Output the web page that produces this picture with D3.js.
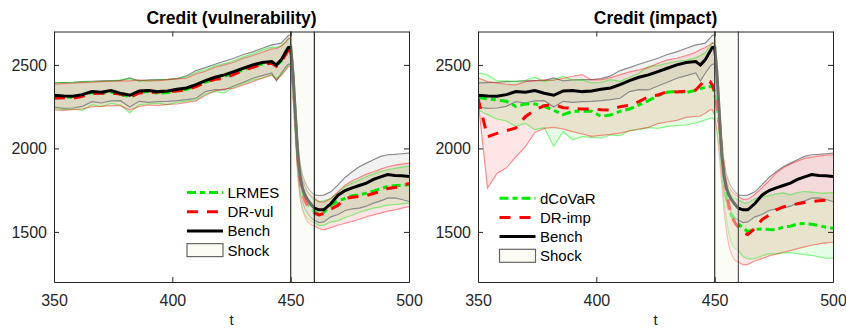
<!DOCTYPE html>
<html>
<head>
<meta charset="utf-8">
<title>Credit (vulnerability) / Credit (impact)</title>
<script src="https://cdn.jsdelivr.net/npm/d3@7"></script>
<style>
  body { margin: 0; background: #fff; }
  text { font-family: "Liberation Sans", Arial, Helvetica, sans-serif; }
</style>
</head>
<body>
<script>
// time points (denser around the shock)
var T = [350,354,358,362,366,370,374,378,382,386,390,394,398,402,406,410,414,418,422,426,430,434,438,442,444,446,448,
         449,450,451,452,453,454,455,456,457,458,459,460,
         462,464,467,470,473,476,479,482,485,488,491,494,497,500];

// benchmark (same in both panels)
var bench = [2318,2314,2312,2322,2340,2336,2346,2330,2318,2344,2346,2340,2344,2354,2362,2382,2406,2426,2440,2460,2480,2500,2514,2520,2500,2530,2580,
             2604,2606,2440,2200,1960,1830,1762,1722,1696,1676,1658,1642,
             1632,1632,1670,1720,1748,1764,1778,1792,1814,1830,1844,1838,1836,1832];
var benchHi = [2392,2394,2396,2400,2402,2404,2406,2406,2422,2404,2410,2412,2412,2418,2434,2466,2484,2504,2522,2540,2562,2578,2600,2620,2624,2630,2660,
               2676,2680,2520,2280,2040,1910,1840,1800,1770,1750,1734,1722,
               1718,1720,1740,1782,1826,1860,1890,1912,1932,1952,1962,1964,1968,1972];
var benchLo = [2248,2240,2242,2252,2280,2272,2284,2286,2248,2282,2276,2280,2282,2286,2292,2300,2340,2352,2350,2374,2396,2420,2436,2452,2404,2450,2490,
               2504,2506,2350,2110,1870,1740,1680,1640,1616,1596,1580,1570,
               1556,1560,1590,1604,1628,1638,1642,1654,1672,1686,1702,1704,1694,1682];

// left panel: LRMES and DR-vul
var lrmes = [2312,2308,2306,2316,2334,2330,2338,2324,2310,2336,2340,2330,2334,2346,2354,2374,2398,2414,2432,2450,2470,2490,2506,2512,2494,2524,2572,
             2596,2598,2430,2180,1940,1806,1738,1698,1670,1650,1634,1622,
             1604,1618,1660,1686,1700,1716,1722,1732,1744,1758,1772,1776,1780,1782];
var lrmesHi = [2394,2396,2394,2400,2398,2402,2404,2410,2418,2402,2406,2410,2414,2420,2426,2456,2470,2494,2508,2524,2548,2566,2590,2606,2604,2616,2640,
               2660,2664,2500,2250,2010,1880,1810,1770,1740,1720,1702,1692,
               1682,1686,1700,1736,1770,1792,1810,1830,1846,1862,1872,1880,1888,1892];
var lrmesLo = [2240,2232,2236,2228,2262,2250,2270,2260,2212,2262,2266,2270,2262,2276,2284,2290,2326,2340,2332,2366,2390,2410,2420,2440,2420,2440,2480,
               2500,2500,2330,2080,1840,1710,1640,1604,1584,1570,1560,1556,
               1538,1540,1560,1566,1586,1600,1618,1630,1642,1650,1660,1664,1668,1672];
var drVul = [2300,2304,2300,2312,2328,2330,2332,2326,2306,2332,2336,2338,2342,2344,2352,2370,2396,2414,2420,2444,2466,2486,2502,2510,2492,2520,2566,
             2590,2594,2420,2170,1930,1796,1728,1688,1660,1638,1622,1612,
             1602,1610,1636,1660,1700,1708,1712,1718,1730,1744,1760,1766,1776,1790];
var drVulHi = [2384,2388,2390,2394,2396,2400,2402,2404,2404,2410,2404,2406,2412,2416,2420,2446,2462,2486,2500,2516,2540,2556,2576,2596,2598,2612,2636,
               2656,2660,2500,2250,2010,1880,1816,1776,1746,1726,1712,1702,
               1680,1678,1700,1740,1780,1806,1826,1846,1860,1876,1890,1900,1906,1912];
var drVulLo = [2230,2228,2232,2236,2250,2252,2256,2256,2230,2252,2260,2256,2264,2266,2276,2284,2318,2344,2356,2360,2380,2400,2420,2440,2412,2436,2470,
               2490,2494,2320,2070,1830,1700,1630,1590,1564,1550,1540,1536,
               1520,1512,1526,1540,1552,1562,1576,1590,1602,1612,1624,1632,1642,1652];

// right panel: dCoVaR and DR-imp
var dcovar = [2306,2296,2290,2282,2252,2266,2266,2252,2228,2202,2222,2222,2222,2192,2200,2222,2236,2260,2286,2316,2336,2342,2334,2348,2358,2366,2370,
              2372,2330,2250,2120,1960,1820,1700,1640,1600,1580,1568,1548,
              1524,1502,1516,1518,1514,1512,1530,1534,1548,1550,1546,1538,1528,1522];
var dcovarHi = [2452,2440,2404,2404,2400,2408,2426,2402,2410,2432,2408,2410,2392,2396,2412,2402,2426,2450,2492,2496,2510,2522,2528,2542,2556,2574,2610,
                2632,2630,2470,2230,2000,1870,1790,1745,1720,1705,1698,1692,
                1676,1672,1700,1708,1716,1728,1734,1722,1736,1742,1738,1734,1732,1736];
var dcovarLo = [2232,2202,2176,2164,2132,2150,2112,2124,2012,2100,2052,2070,2066,2062,2080,2076,2108,2112,2124,2120,2132,2136,2140,2152,2160,2170,2180,
                2182,2170,2100,1980,1830,1680,1570,1490,1440,1410,1396,1390,
                1352,1338,1340,1356,1370,1368,1374,1376,1370,1364,1360,1350,1342,1344];
var drImp = [2300,2070,2090,2106,2122,2190,2230,2256,2262,2244,2240,2236,2236,2232,2230,2250,2258,2280,2310,2320,2340,2338,2342,2350,2380,2410,2400,
             2380,2340,2260,2150,2000,1860,1740,1660,1600,1570,1545,1530,
             1496,1484,1520,1574,1600,1632,1650,1660,1668,1676,1682,1686,1690,1694];
var drImpHi = [2422,2400,2392,2384,2380,2400,2406,2410,2408,2420,2432,2442,2410,2410,2424,2440,2458,2470,2484,2510,2530,2540,2556,2576,2592,2604,2620,
               2632,2630,2480,2250,2020,1890,1810,1770,1745,1730,1720,1712,
               1694,1696,1724,1764,1806,1852,1884,1906,1924,1940,1948,1954,1960,1962];
var drImpLo = [2292,1762,1850,1884,1950,2010,2096,2120,2126,2116,2100,2086,2072,2078,2084,2092,2104,2116,2126,2148,2158,2168,2186,2192,2194,2210,2230,
               2232,2200,2100,1950,1780,1620,1500,1420,1370,1340,1325,1320,
               1302,1306,1326,1340,1356,1366,1378,1388,1400,1410,1420,1428,1434,1438];

var xTicks = [350, 400, 450, 500];
var yTicks = [1500, 2000, 2500];
var shock = [450, 460];

var width = 846, height = 329;
var svg = d3.select("body").append("svg")
            .attr("width", width)
            .attr("height", height);

var axisCol = "#262626";
var green = "#00e800", red = "#ff0000";

function drawPanel(p) {
  var top = 31.5, bottom = 282, w = 355;
  var x = d3.scaleLinear().domain([350, 500]).range([p.left, p.left + w]);
  var y = d3.scaleLinear().domain([1200, 2700]).range([bottom, top]);
  var g = svg.append("g");

  var clipId = "clip" + p.id;
  svg.append("clipPath").attr("id", clipId)
     .append("rect").attr("x", p.left).attr("y", top).attr("width", w).attr("height", bottom - top);
  var plot = g.append("g").attr("clip-path", "url(#" + clipId + ")");

  var line = function(arr) {
    return d3.line().x(function(d, i) { return x(T[i]); }).y(function(d) { return y(d); })(arr);
  };
  var area = function(lo, hi) {
    return d3.area()
      .x(function(d, i) { return x(T[i]); })
      .y0(function(d) { return y(d); })
      .y1(function(d, i) { return y(hi[i]); })(lo);
  };

  // confidence bands
  var bands = [
    {lo: benchLo, hi: benchHi, fill: "#808080", edge: "#8a8a8a", op: 1},
    {lo: p.gLo, hi: p.gHi, fill: green, edge: "#00ee00", op: 0.45},
    {lo: p.rLo, hi: p.rHi, fill: red, edge: "#ff0000", op: 0.42}
  ];
  bands.forEach(function(b) {
    plot.append("path").attr("d", area(b.lo, b.hi))
        .attr("fill", b.fill).attr("fill-opacity", 0.1);
  });
  bands.forEach(function(b) {
    [b.lo, b.hi].forEach(function(arr) {
      plot.append("path").attr("d", line(arr))
          .attr("fill", "none").attr("stroke", b.edge)
          .attr("stroke-opacity", b.op).attr("stroke-width", 1.2);
    });
  });

  // central lines
  plot.append("path").attr("d", line(p.g)).attr("fill", "none")
      .attr("stroke", green).attr("stroke-width", 3).attr("stroke-dasharray", "9,4,5,4");
  plot.append("path").attr("d", line(p.r)).attr("fill", "none")
      .attr("stroke", red).attr("stroke-width", 3).attr("stroke-dasharray", "11,9");
  plot.append("path").attr("d", line(bench)).attr("fill", "none")
      .attr("stroke", "#000").attr("stroke-width", 3);

  // shock window (semi-transparent, on top)
  g.append("rect")
   .attr("x", x(shock[0])).attr("y", top)
   .attr("width", x(shock[1]) - x(shock[0])).attr("height", bottom - top)
   .attr("fill", "#f8f8ea").attr("fill-opacity", 0.45);
  g.append("line").attr("x1", x(shock[0])).attr("x2", x(shock[0])).attr("y1", top).attr("y2", bottom)
   .attr("stroke", "#444").attr("stroke-width", 1.3);
  g.append("line").attr("x1", x(shock[1])).attr("x2", x(shock[1])).attr("y1", top).attr("y2", bottom)
   .attr("stroke", p.id == 1 ? "#111" : "#444").attr("stroke-width", 1.1);

  // axes (ticks inside, box)
  var ax = g.append("g").attr("class", "axes");
  ax.append("g").attr("transform", "translate(" + p.left + ",0)")
    .call(d3.axisLeft(y).tickValues(yTicks).tickFormat(d3.format("d"))
      .tickSizeInner(-5).tickSizeOuter(0).tickPadding(7));
  ax.append("g").attr("transform", "translate(" + (p.left + w) + ",0)")
    .call(d3.axisRight(y).tickValues(yTicks).tickSizeInner(-5).tickSizeOuter(0).tickFormat(""));
  ax.append("g").attr("transform", "translate(0," + bottom + ")")
    .call(d3.axisBottom(x).tickValues(xTicks).tickFormat(d3.format("d"))
      .tickSizeInner(-5).tickSizeOuter(0).tickPadding(13));
  ax.append("g").attr("transform", "translate(0," + top + ")")
    .call(d3.axisTop(x).tickValues(xTicks).tickSizeInner(-5).tickSizeOuter(0).tickFormat(""));
  ax.selectAll("path.domain").attr("stroke", axisCol).attr("stroke-width", 1);
  ax.selectAll(".tick line").attr("stroke", axisCol).attr("stroke-width", 1);
  ax.selectAll(".tick text").attr("fill", axisCol)
    .style("font-size", "16px").style("font-family", "'Liberation Sans', Arial, sans-serif");

  // title and x label
  g.append("text").attr("x", p.left + w / 2).attr("y", 24)
   .attr("text-anchor", "middle").style("font-size", "17.5px").style("font-weight", "bold")
   .attr("fill", "#000").text(p.title);
  g.append("text").attr("x", p.left + w / 2).attr("y", 325)
   .attr("text-anchor", "middle").style("font-size", "15px").attr("fill", axisCol).text("t");

  // legend
  var lg = g.append("g").attr("transform", "translate(" + p.legX + "," + p.legY + ")");
  var items = [
    {name: p.gName, stroke: green, dash: "9,4,5,4"},
    {name: p.rName, stroke: red, dash: "11,9"},
    {name: "Bench", stroke: "#000", dash: null},
    {name: "Shock", box: true}
  ];
  items.forEach(function(it, i) {
    var yy = i * 19.2;
    if (it.box) {
      lg.append("rect").attr("x", 0).attr("y", yy - 6.5).attr("width", 36).attr("height", 13)
        .attr("fill", "#fcfcf4").attr("stroke", "#666").attr("stroke-width", 1.2);
    } else {
      lg.append("line").attr("x1", 0).attr("x2", 36).attr("y1", yy).attr("y2", yy)
        .attr("stroke", it.stroke).attr("stroke-width", 3)
        .attr("stroke-dasharray", it.dash);
    }
    lg.append("text").attr("x", 40.5).attr("y", yy).attr("dy", "0.36em")
      .style("font-size", "15px").attr("fill", "#000").text(it.name);
  });
}

drawPanel({id: 1, left: 54, title: "Credit (vulnerability)",
  g: lrmes, gLo: lrmesLo, gHi: lrmesHi, r: drVul, rLo: drVulLo, rHi: drVulHi,
  gName: "LRMES", rName: "DR-vul", legX: 187, legY: 192.5});
drawPanel({id: 2, left: 478, title: "Credit (impact)",
  g: dcovar, gLo: dcovarLo, gHi: dcovarHi, r: drImp, rLo: drImpLo, rHi: drImpHi,
  gName: "dCoVaR", rName: "DR-imp", legX: 499.5, legY: 198.2});
</script>
</body>
</html>
